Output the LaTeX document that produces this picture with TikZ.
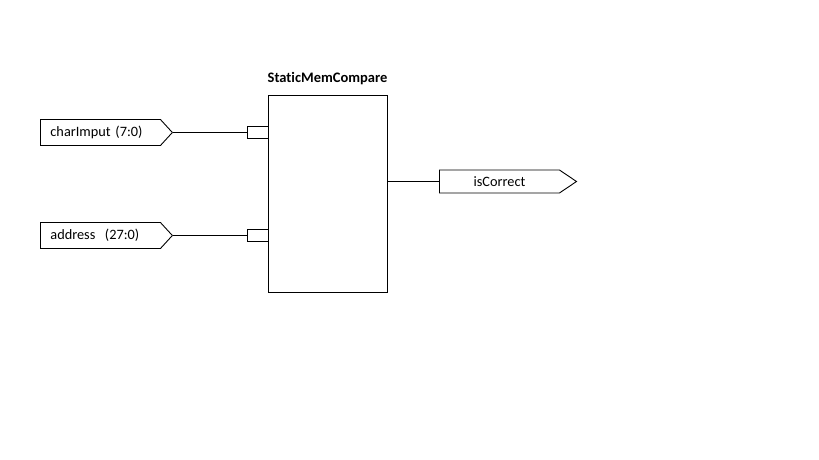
\documentclass[tikz,border=0pt]{standalone}
\usepackage{fontspec}
\setmainfont{Carlito}[Ligatures=NoCommon]
\usetikzlibrary{arrows.meta,positioning,shapes.symbols}
\tikzset{>=latex}

\begin{document}
\begin{tikzpicture}
	[x=1pt, y=-1pt, inner sep=0pt, line width=0.9pt,
	font=\fontsize{14.3}{16}\selectfont,
	component/.style={draw, rectangle, minimum width=119pt, minimum height=197pt},
	pinbox/.style={draw, rectangle, minimum width=21pt, minimum height=12.5pt},
	intag/.style={draw, signal, signal to=east, signal pointer angle=95,
		minimum height=26pt, text width=100pt, inner xsep=10pt, align=left, anchor=west},
	outtag/.style={draw, signal, signal to=east, signal pointer angle=68,
		minimum height=23pt, text width=100pt, inner xsep=10pt, align=center, anchor=west},
	title/.style={font=\fontsize{14.5}{16}\selectfont\bfseries}]
	
	\useasboundingbox (0,0) rectangle (819,460);
	
	\node[component] (mem_compare)   at (327.5,193.5)              {};
	\node[title]     (mem_title)     [above=9pt of mem_compare]    {StaticMemCompare};
	
	\node[pinbox]    (char_pin)      at (257.5,132.5)              {};
	\node[pinbox]    (addr_pin)      at (257.5,235.5)              {};
	
	\node[intag]     (char_tag)      at (40,132.5)                 {charImput (7:0)};
	\node[intag]     (addr_tag)      at (40,235.5)                 {address\ \ (27:0)};
	\node[outtag]    (correct_tag)   at (439,181.5)                {isCorrect};
	
	\draw (char_tag.east) -- (char_pin.west);
	\draw (addr_tag.east) -- (addr_pin.west);
	\draw (correct_tag.west -| mem_compare.east) -- (correct_tag.west);
\end{tikzpicture}
\end{document}
